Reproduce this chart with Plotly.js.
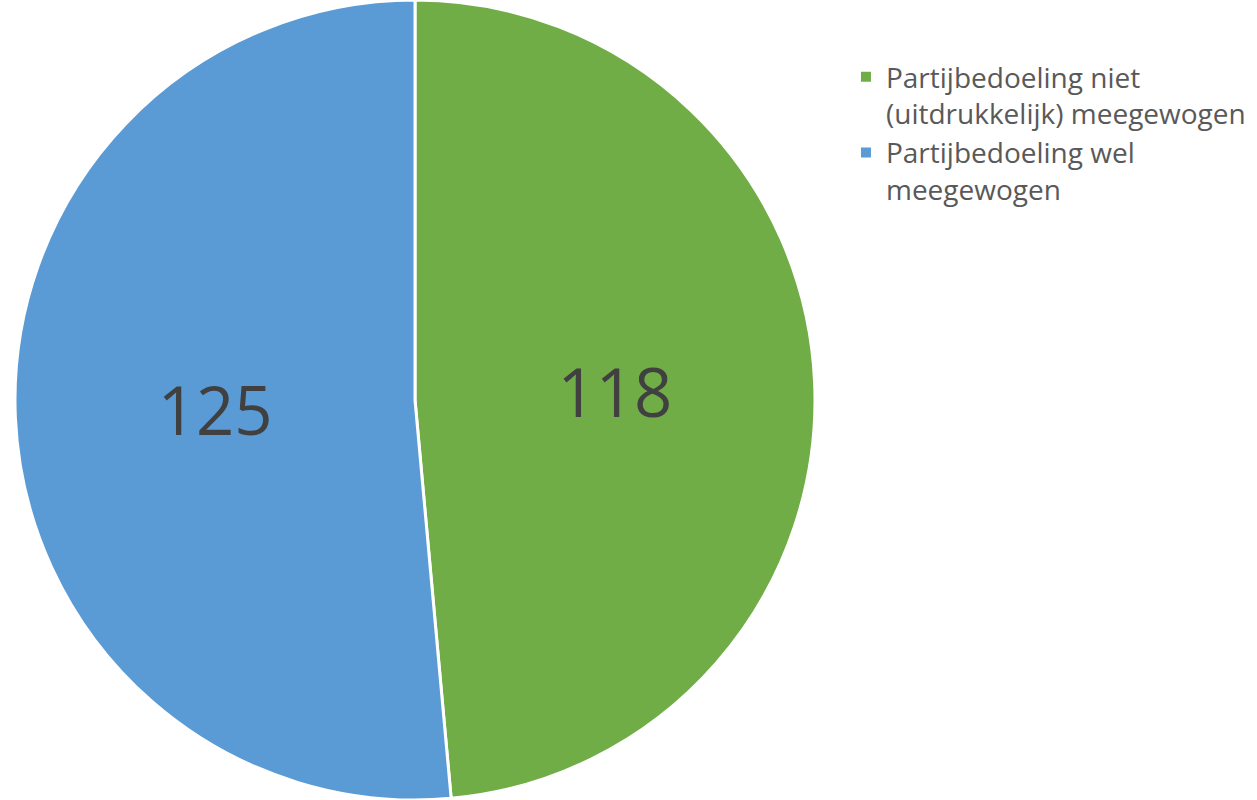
<!DOCTYPE html>
<html><head><meta charset="utf-8">
<script src="https://cdn.plot.ly/plotly-3.0.1.min.js"></script>
<style>html,body{margin:0;padding:0;background:#fff;}</style>
</head><body>
<div id="chart" style="width:1257px;height:800px;"></div>
<script>
const categories = ["Partijbedoeling niet<br>(uitdrukkelijk) meegewogen", "Partijbedoeling wel<br>meegewogen"];
const values = [118, 125];
const colors = ["#70AD47", "#5B9BD5"];

Plotly.newPlot('chart', [{
  type: 'pie',
  labels: categories,
  values: values,
  sort: false,
  direction: 'clockwise',
  rotation: 0,
  marker: {colors: colors, line: {color: '#ffffff', width: 3}},
  textinfo: 'value',
  textposition: 'inside',
  insidetextorientation: 'horizontal',
  textfont: {family: 'Open Sans, sans-serif', size: 67, color: '#404040'},
  domain: {x: [14/1257, 816/1257], y: [0, 1]},
  hoverinfo: 'label+value'
}], {
  width: 1257, height: 800,
  margin: {l: 0, r: 0, t: 0, b: 0},
  paper_bgcolor: '#ffffff',
  showlegend: true,
  legend: {
    x: 0.673, y: 0.935, xanchor: 'left', yanchor: 'top',
    valign: 'top',
    font: {family: 'Open Sans, sans-serif', size: 28, color: '#595959'},
    tracegroupgap: 0, itemsizing: 'constant'
  }
}, {displayModeBar: false, staticPlot: true});
</script>
</body></html>
